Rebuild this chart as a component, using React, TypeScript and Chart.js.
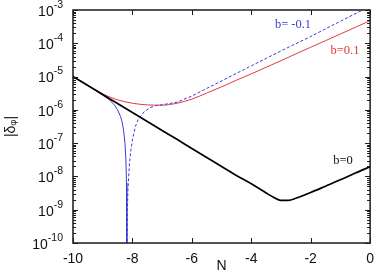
import React, { useEffect, useRef } from "react";
import { Chart, registerables } from "chart.js";
Chart.register(...registerables);

// ---- data ----
const X_TICKS = [-10, -8, -6, -4, -2, 0];
const Y_TICKS = [1e-10, 1e-9, 1e-8, 1e-7, 1e-6, 1e-5, 1e-4, 1e-3];

const N_BLACK = [-10, -9.5, -9, -8.5, -8, -7.5, -7, -6.5, -6, -5.5, -5, -4.5, -4, -3.5, -3.25, -3, -2.75, -2.5, -2, -1.5, -1, -0.5, 0];
const V_BLACK = [1.0e-5, 5.4e-6, 2.9e-6, 1.55e-6, 8.3e-7, 4.5e-7, 2.4e-7, 1.3e-7, 6.9e-8, 3.7e-8, 2.0e-8, 1.07e-8, 6.0e-9, 3.2e-9, 2.35e-9, 1.9e-9, 1.9e-9, 2.2e-9, 3.3e-9, 5.1e-9, 7.9e-9, 1.26e-8, 1.95e-8];

const N_RED = [-10, -9.5, -9, -8.5, -8, -7.5, -7, -6.5, -6, -5.5, -5, -4.5, -4, -3.5, -3, -2.5, -2, -1.5, -1, -0.5, 0];
const V_RED = [1.0e-5, 5.4e-6, 3.0e-6, 2.0e-6, 1.58e-6, 1.41e-6, 1.38e-6, 1.58e-6, 2.1e-6, 3.2e-6, 4.9e-6, 7.8e-6, 1.2e-5, 1.9e-5, 3.0e-5, 4.8e-5, 7.6e-5, 1.2e-4, 1.9e-4, 3.0e-4, 4.8e-4];

const N_BLUE_SOLID = [-10, -9.5, -9, -8.8, -8.6, -8.5, -8.4, -8.35, -8.3, -8.25, -8.22, -8.2, -8.19, -8.185];
const V_BLUE_SOLID = [1.0e-5, 5.4e-6, 2.75e-6, 2.1e-6, 1.38e-6, 1.0e-6, 6.3e-7, 4.5e-7, 2.5e-7, 1.0e-7, 3.2e-8, 6.3e-9, 1e-9, 1e-11];

const N_BLUE_DASH = [-8.183, -8.17, -8.15, -8.1, -8.05, -8.0, -7.9, -7.8, -7.6, -7.4, -7.2, -7.0, -6.5, -6.0, -5.5, -5.0, -4.0, -3.0, -2.0, -1.0, 0];
const V_BLUE_DASH = [1e-11, 1e-9, 4e-9, 2.5e-8, 6.3e-8, 1.26e-7, 3.2e-7, 5.2e-7, 8.9e-7, 1.17e-6, 1.35e-6, 1.42e-6, 1.7e-6, 2.6e-6, 4.4e-6, 7.4e-6, 2.1e-5, 5.9e-5, 1.6e-4, 4.6e-4, 1.3e-3];

const LABELS = ["b= -0.1", "b=0.1", "b=0"];

const SANS = "'Liberation Sans', Arial, Helvetica, sans-serif";
const SERIF = "'Liberation Serif', 'Times New Roman', serif";
const BLUE = "#3b3bd6";
const RED = "#e23a3a";

const pts = (xs: number[], ys: number[]) => xs.map((x, i) => ({ x, y: ys[i] }));

const framePlugin = {
  id: "frameTicks",
  afterDatasetsDraw(chart: any) {
    const { ctx, chartArea, scales } = chart;
    const { left, right, top, bottom } = chartArea;
    const x = scales.x;
    const y = scales.y;
    ctx.save();
    ctx.strokeStyle = "#1a1a1a";
    ctx.lineWidth = 1;
    ctx.beginPath();
    for (const v of X_TICKS) {
      const px = Math.round(x.getPixelForValue(v)) + 0.5;
      ctx.moveTo(px, bottom);
      ctx.lineTo(px, bottom - 5);
      ctx.moveTo(px, top);
      ctx.lineTo(px, top + 5);
    }
    for (let k = -10; k <= -3; k++) {
      const py = Math.round(y.getPixelForValue(Math.pow(10, k))) + 0.5;
      ctx.moveTo(left, py);
      ctx.lineTo(left + 5, py);
      ctx.moveTo(right, py);
      ctx.lineTo(right - 5, py);
      if (k < -3) {
        for (let m = 2; m <= 9; m++) {
          const pm = Math.round(y.getPixelForValue(m * Math.pow(10, k))) + 0.5;
          ctx.moveTo(left, pm);
          ctx.lineTo(left + 3, pm);
          ctx.moveTo(right, pm);
          ctx.lineTo(right - 3, pm);
        }
      }
    }
    ctx.stroke();
    ctx.lineWidth = 1.5;
    ctx.strokeRect(left, top, right - left, bottom - top);

    // y tick labels: 10 with superscript exponent
    ctx.fillStyle = "#111";
    ctx.textBaseline = "middle";
    for (const v of Y_TICKS) {
      const py = y.getPixelForValue(v);
      const exp = String(Math.round(Math.log10(v)));
      ctx.font = "10.5px " + SANS;
      const ew = ctx.measureText(exp).width;
      const rx = left - 10;
      ctx.textAlign = "right";
      ctx.fillText(exp, rx, py - 5);
      ctx.font = "14px " + SANS;
      ctx.fillText("10", rx - ew, py + 2);
    }

    ctx.textAlign = "center";
    ctx.textBaseline = "middle";
    ctx.font = "12.5px " + SERIF;
    ctx.fillStyle = BLUE;
    ctx.fillText(LABELS[0], 293, 25);
    ctx.fillStyle = RED;
    ctx.fillText(LABELS[1], 345, 51);
    ctx.fillStyle = "#111";
    ctx.fillText(LABELS[2], 343, 161);
    ctx.restore();
  },
};

export default function App() {
  const ref = useRef<HTMLCanvasElement>(null);
  useEffect(() => {
    document.body.style.margin = "0";
    const canvas = ref.current;
    if (!canvas) return;
    const font = { family: SANS, size: 14 };
    const chart = new Chart(canvas, {
      type: "scatter",
      data: {
        datasets: [
          { data: pts(N_BLACK, V_BLACK), showLine: true, borderColor: "#000", borderWidth: 1.7, pointRadius: 0, cubicInterpolationMode: "monotone" },
          { data: pts(N_BLUE_SOLID, V_BLUE_SOLID), showLine: true, borderColor: BLUE, borderWidth: 1, pointRadius: 0 },
          { data: pts(N_BLUE_DASH, V_BLUE_DASH), showLine: true, borderColor: BLUE, borderWidth: 1, borderDash: [3, 2], pointRadius: 0 },
          { data: pts(N_RED, V_RED), showLine: true, borderColor: RED, borderWidth: 1, pointRadius: 0, cubicInterpolationMode: "monotone" },
        ],
      },
      options: {
        animation: false,
        responsive: false,
        devicePixelRatio: 1,
        layout: { padding: { top: 10, right: 6, left: 0, bottom: 0 }, autoPadding: false },
        plugins: { legend: { display: false }, tooltip: { enabled: false } },
        scales: {
          x: {
            type: "linear",
            min: -10,
            max: 0,
            afterBuildTicks: (s: any) => {
              s.ticks = X_TICKS.map((v) => ({ value: v }));
            },
            afterFit: (s: any) => {
              s.height = 32;
            },
            ticks: { font, color: "#111", padding: 8, maxRotation: 0, autoSkip: false, callback: (v: any) => String(v) },
            grid: { display: false, drawTicks: false },
            border: { display: false },
            title: { display: true, text: "N", font, color: "#111", padding: { top: 0, bottom: 0 } },
          },
          y: {
            type: "logarithmic",
            min: 1e-10,
            max: 1e-3,
            afterBuildTicks: (s: any) => {
              s.ticks = Y_TICKS.map((v) => ({ value: v }));
            },
            afterFit: (s: any) => {
              s.width = 73;
            },
            ticks: { display: false },
            grid: { display: false, drawTicks: false },
            border: { display: false },
            title: { display: true, text: "|δᵩ|", font, color: "#111", padding: { top: 3, bottom: 0 } },
          },
        },
      },
      plugins: [framePlugin],
    } as any);
    return () => chart.destroy();
  }, []);
  return (
    <div style={{ position: "absolute", left: 0, top: 0, width: 382, height: 275 }}>
      <canvas ref={ref} width={382} height={275} style={{ width: 382, height: 275 }} />
    </div>
  );
}
